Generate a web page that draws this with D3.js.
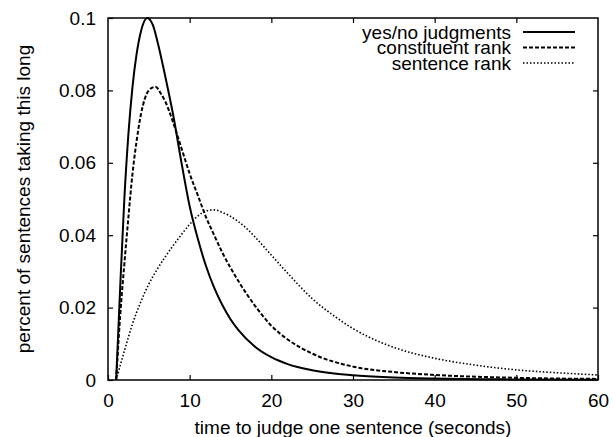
<!DOCTYPE html>
<html>
<head>
<meta charset="utf-8">
<script src="https://cdn.jsdelivr.net/npm/d3@7"></script>
<style>
  body { margin: 0; background: #fff; }
  svg text { font-family: "Liberation Sans", Arial, sans-serif; font-size: 19px; fill: #000; }
</style>
</head>
<body>
<svg id="chart"></svg>
<script>
const width = 613;
const height = 437;

// seconds, fraction of sentences
const yesNo = [[1, 0], [1.5, 0.026], [2, 0.05], [2.5, 0.068], [3, 0.081], [3.5, 0.09], [4, 0.096], [4.8, 0.1],
  [5.5, 0.098], [6, 0.094], [7, 0.084], [8, 0.073], [9, 0.06], [10, 0.048], [11, 0.039], [12, 0.0315],
  [13, 0.0255], [14, 0.0207], [15, 0.0168], [16, 0.0137], [18, 0.0092], [20, 0.0063], [22, 0.0044],
  [25, 0.0027], [30, 0.0013], [35, 0.0007], [40, 0.0004], [50, 0.00015], [60, 0.00006]];
const constituentRank = [[1, 0], [1.5, 0.018], [2, 0.032], [2.5, 0.045], [3, 0.057], [3.5, 0.066], [4, 0.073],
  [5, 0.08], [5.8, 0.081], [6.5, 0.079], [7, 0.077], [8, 0.071], [9, 0.064], [10, 0.057], [11, 0.051],
  [12, 0.045], [13, 0.04], [14, 0.0352], [15, 0.031], [16, 0.0272], [18, 0.0205], [20, 0.015], [22, 0.0112],
  [25, 0.0073], [30, 0.0037], [35, 0.0022], [40, 0.0014], [50, 0.0006], [60, 0.0003]];
const sentenceRank = [[1, 0], [2, 0.008], [3, 0.0155], [4, 0.0215], [5, 0.0265], [6, 0.0305], [7, 0.034],
  [8, 0.0372], [9, 0.0402], [10, 0.043], [11, 0.0453], [12, 0.0467], [13, 0.047], [14, 0.0463], [15, 0.0452],
  [16, 0.0437], [17, 0.0418], [18, 0.0395], [20, 0.0345], [22, 0.0295], [25, 0.0225], [28, 0.0172],
  [30, 0.0142], [32, 0.0118], [35, 0.009], [40, 0.006], [45, 0.0041], [50, 0.0028], [55, 0.002], [60, 0.0014]];

const seriesNames = ["yes/no judgments", "constituent rank", "sentence rank"];
const xTicks = [0, 10, 20, 30, 40, 50, 60];
const yTicks = [0, 0.02, 0.04, 0.06, 0.08, 0.1];

const margin = {top: 18, right: 15, bottom: 57, left: 108};

const svg = d3.select("#chart")
  .attr("width", width)
  .attr("height", height);

const x = d3.scaleLinear().domain([0, 60]).range([margin.left, width - margin.right]);
const y = d3.scaleLinear().domain([0, 0.1]).range([height - margin.bottom, margin.top]);

// ticks point inward on all four sides, gnuplot style
const tick = 5;
svg.append("g")
  .attr("transform", `translate(0,${y(0)})`)
  .call(d3.axisBottom(x).tickValues(xTicks).tickSize(-tick).tickPadding(14).tickFormat(d3.format("d")))
  .call(g => g.select(".domain").remove());
svg.append("g")
  .attr("transform", `translate(0,${y(0.1)})`)
  .call(d3.axisTop(x).tickValues(xTicks.slice(1, -1)).tickSize(-tick).tickFormat(""))
  .call(g => g.select(".domain").remove());
svg.append("g")
  .attr("transform", `translate(${x(0)},0)`)
  .call(d3.axisLeft(y).tickValues(yTicks).tickSize(-tick).tickPadding(12).tickFormat(d => d === 0 ? "0" : String(+d.toFixed(2))))
  .call(g => g.select(".domain").remove());
svg.append("g")
  .attr("transform", `translate(${x(60)},0)`)
  .call(d3.axisRight(y).tickValues(yTicks.slice(1, -1)).tickSize(-tick).tickFormat(""))
  .call(g => g.select(".domain").remove());

svg.selectAll(".tick text").style("font-size", "19px").style("font-family", "Liberation Sans, Arial, sans-serif");
svg.selectAll(".tick line").attr("stroke", "#000").attr("stroke-width", 1.2);

svg.append("rect")
  .attr("x", x(0)).attr("y", y(0.1))
  .attr("width", x(60) - x(0)).attr("height", y(0) - y(0.1))
  .attr("fill", "none").attr("stroke", "#000").attr("stroke-width", 1.5);

const styles = [
  {dash: null, w: 2},
  {dash: "4,2", w: 2},
  {dash: "1.5,2", w: 1.6}
];

const line = d3.line()
  .x(d => x(d[0]))
  .y(d => y(d[1]))
  .curve(d3.curveMonotoneX);

[yesNo, constituentRank, sentenceRank].forEach((s, i) => {
  svg.append("path")
    .datum(s)
    .attr("d", line)
    .attr("fill", "none")
    .attr("stroke", "#000")
    .attr("stroke-width", styles[i].w)
    .attr("stroke-dasharray", styles[i].dash);
});

// legend
const legend = svg.append("g");
seriesNames.forEach((name, i) => {
  const ly = 32 + i * 15.5;
  legend.append("text")
    .attr("x", 511).attr("y", ly)
    .attr("dy", "0.35em")
    .attr("text-anchor", "end")
    .text(name);
  legend.append("line")
    .attr("x1", 523).attr("x2", 575)
    .attr("y1", ly).attr("y2", ly)
    .attr("stroke", "#000")
    .attr("stroke-width", styles[i].w)
    .attr("stroke-dasharray", styles[i].dash);
});

svg.append("text")
  .attr("x", (x(0) + x(60)) / 2)
  .attr("y", 434)
  .attr("text-anchor", "middle")
  .text("time to judge one sentence (seconds)");

svg.append("text")
  .attr("transform", `translate(30,${(y(0) + y(0.1)) / 2}) rotate(-90)`)
  .attr("text-anchor", "middle")
  .text("percent of sentences taking this long");
</script>
</body>
</html>
